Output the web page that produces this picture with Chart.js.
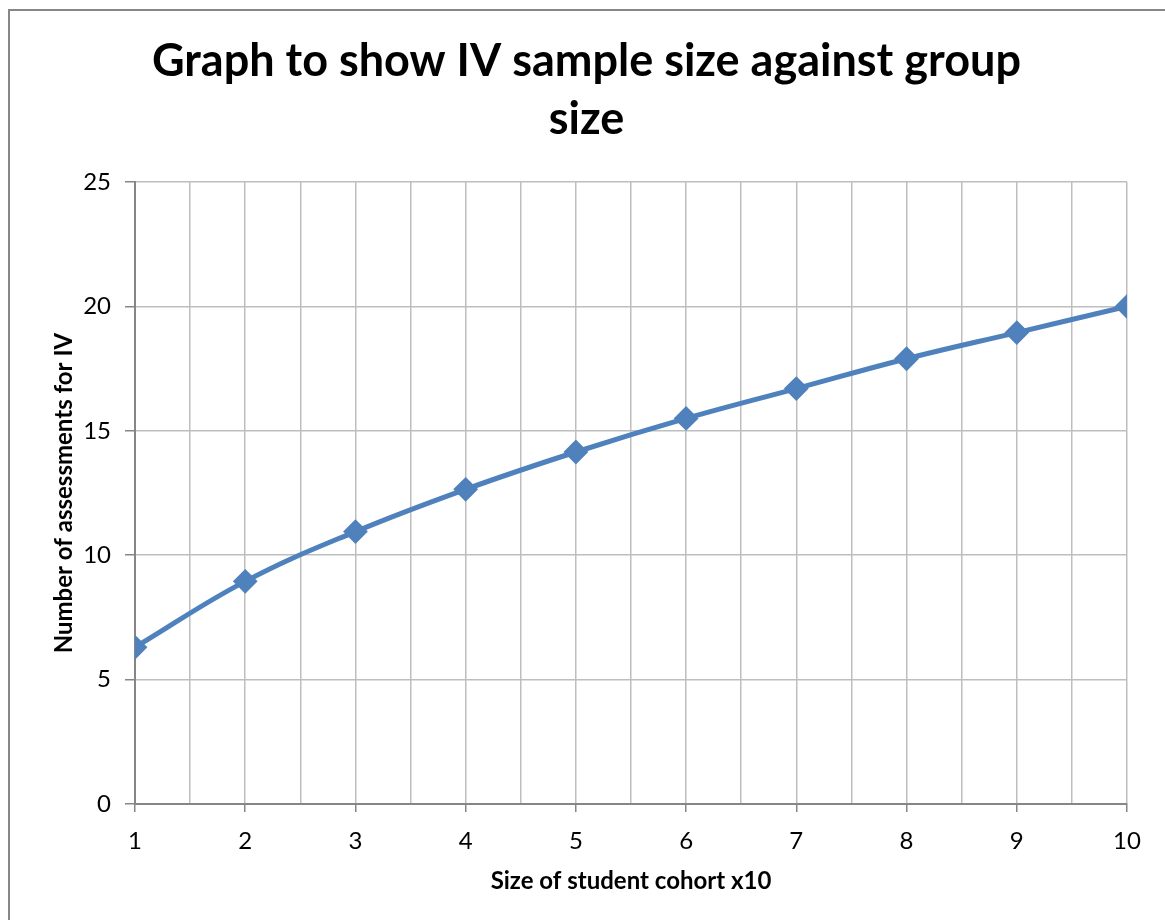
<!DOCTYPE html>
<html>
<head>
<meta charset="utf-8">
<script src="https://cdn.jsdelivr.net/npm/chart.js@4.4.0/dist/chart.umd.min.js"></script>
<style>
    body { margin: 0; background: #fff; }
    #cadre { position: absolute; left: 8px; top: 9px; right: 0; bottom: 0;
             border-left: 2px solid #878787; border-top: 2px solid #878787; }
    #graphe { position: absolute; left: 0; top: 0; }
</style>
</head>
<body>
<div id="cadre"></div>
<canvas id="graphe" width="1165" height="920"></canvas>
<script>
    // données
    var cohortes = [1, 2, 3, 4, 5, 6, 7, 8, 9, 10];
    var evaluations = [6.3, 8.95, 10.95, 12.65, 14.15, 15.5, 16.7, 17.9, 18.95, 20];
    var titre = ["Graph to show IV sample size against group", "size"];
    var titreX = "Size of student cohort x10";
    var titreY = "Number of assessments for IV";

    var points = [];
    for (let i = 0; i < cohortes.length; i++) {
        points.push({x: cohortes[i], y: evaluations[i]});
    }

    var police = "Lato";
    var bleu = "#4F81BD";
    var grille = "#BEBEBE";
    var axe = "#868686";

    new Chart(document.getElementById("graphe").getContext('2d'), {
        type: 'line',
        data: {
            datasets: [{
                data: points,
                borderColor: bleu,
                backgroundColor: bleu,
                borderWidth: 5,
                tension: 0.4,
                pointStyle: 'rectRot',
                pointRadius: 11,
                pointBorderWidth: 2,
                pointBackgroundColor: bleu,
                pointBorderColor: bleu,
                fill: false
            }]
        },
        options: {
            responsive: false,
            animation: false,
            layout: { padding: { left: 46, right: 38, top: 20, bottom: 20 } },
            plugins: {
                legend: { display: false },
                tooltip: { enabled: false },
                title: {
                    display: true,
                    text: titre,
                    color: '#000',
                    font: { family: police, size: 45, weight: 'bold', lineHeight: 1.29 },
                    padding: { top: 12, bottom: 34 }
                }
            },
            scales: {
                x: {
                    type: 'linear',
                    min: 1,
                    max: 10,
                    afterFit: function (s) { s.height = 96; },
                    ticks: {
                        stepSize: 0.5,
                        autoSkip: false,
                        maxRotation: 0,
                        color: '#000',
                        padding: 15,
                        font: { family: police, size: 24 },
                        callback: function (v) { return Number.isInteger(v) ? String(v) : ''; }
                    },
                    grid: {
                        color: grille,
                        lineWidth: 1.5,
                        tickLength: 8,
                        tickColor: function (c) { return Number.isInteger(c.tick.value) ? axe : 'rgba(0,0,0,0)'; }
                    },
                    border: { color: axe, width: 2 },
                    title: {
                        display: true,
                        text: titreX,
                        color: '#000',
                        font: { family: police, size: 24, weight: 'bold' },
                        padding: { top: 4, bottom: 4 }
                    }
                },
                y: {
                    min: 0,
                    max: 25,
                    afterFit: function (s) { s.width = 135 - 46; },
                    ticks: {
                        stepSize: 5,
                        color: '#000',
                        padding: 14,
                        font: { family: police, size: 24 }
                    },
                    grid: {
                        color: grille,
                        lineWidth: 1.5,
                        tickLength: 10,
                        tickColor: axe
                    },
                    border: { color: axe, width: 2 },
                    title: {
                        display: true,
                        text: titreY,
                        color: '#000',
                        font: { family: police, size: 24, weight: 'bold' },
                        padding: { top: 4, bottom: 4 }
                    }
                }
            }
        }
    });
</script>
</body>
</html>
